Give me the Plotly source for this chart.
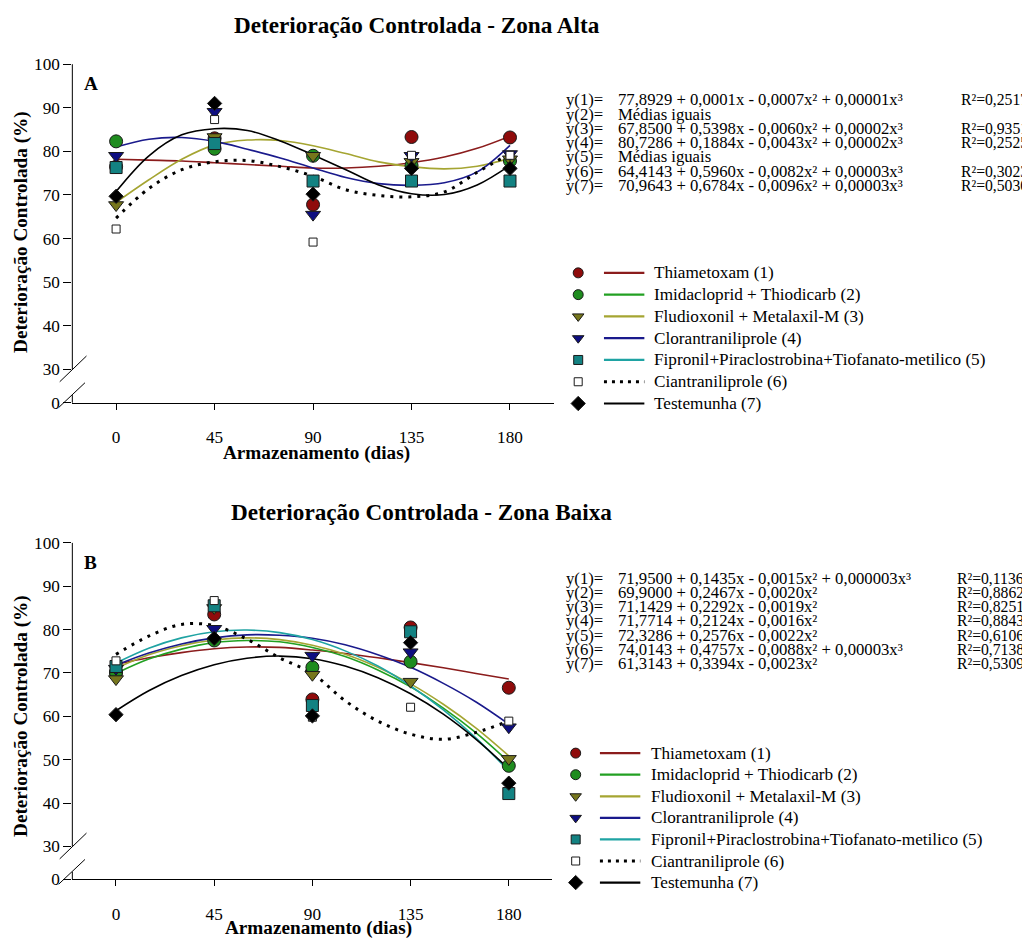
import plotly.graph_objects as go

# ---------------- data ----------------
days = [0, 45, 90, 135, 180]
day_labels = ["0", "45", "90", "135", "180"]
curve_days = [0, 15, 30, 45, 60, 75, 90, 105, 120, 135, 150, 165, 180]
y_tick_values = [30, 40, 50, 60, 70, 80, 90, 100]

series_names = [
    "Thiametoxam (1)",
    "Imidacloprid + Thiodicarb (2)",
    "Fludioxonil + Metalaxil-M (3)",
    "Clorantraniliprole (4)",
    "Fipronil+Piraclostrobina+Tiofanato-metilico (5)",
    "Ciantraniliprole (6)",
    "Testemunha (7)",
]

# Zona Alta - observed means
alta_thiametoxam = [76.5, 83.0, 67.8, 83.3, 83.2]
alta_imidacloprid = [82.3, 80.6, 79.0, 76.8, 77.8]
alta_fludioxonil = [67.7, 83.3, 79.0, 77.6, 78.2]
alta_clorantraniliprole = [79.0, 89.1, 65.5, 79.0, 79.4]
alta_fipronil = [76.3, 81.8, 73.2, 73.2, 73.2]
alta_ciantraniliprole = [62.2, 87.3, 59.2, 79.1, 79.1]
alta_testemunha = [69.7, 91.0, 70.2, 76.1, 76.1]

# Zona Alta - regression curves (None = "Médias iguais")
alta_fit_thiametoxam = [78.2, 78.0, 77.8, 77.4, 77.0, 76.6, 76.2, 76.2, 76.6, 77.4, 78.7, 80.7, 83.5]
alta_fit_fludioxonil = [68.3, 73.5, 78.2, 81.5, 82.6, 82.5, 81.3, 79.5, 77.6, 76.5, 76.0, 76.6, 78.4]
alta_fit_clorantraniliprole = [81.0, 82.8, 83.2, 82.3, 80.5, 78.5, 76.2, 74.0, 72.6, 72.2, 72.8, 75.3, 81.4]
alta_fit_ciantraniliprole = [64.7, 71.5, 75.8, 77.6, 77.9, 76.5, 74.3, 71.2, 69.9, 69.6, 70.7, 75.2, 79.5]
alta_fit_testemunha = [70.8, 79.0, 83.8, 85.2, 84.8, 82.4, 79.2, 75.8, 72.3, 70.3, 70.1, 72.3, 76.8]

# Zona Baixa - observed means
baixa_thiametoxam = [70.0, 83.5, 63.9, 80.5, 66.6]
baixa_imidacloprid = [70.2, 77.5, 71.3, 72.6, 48.6]
baixa_fludioxonil = [68.6, 85.0, 69.6, 68.0, 50.2]
baixa_clorantraniliprole = [71.0, 80.2, 74.0, 74.8, 57.5]
baixa_fipronil = [71.5, 85.5, 62.5, 79.5, 42.2]
baixa_ciantraniliprole = [72.8, 86.7, 59.8, 62.1, 58.9]
baixa_testemunha = [60.4, 78.0, 60.1, 77.0, 44.6]

# Zona Baixa - regression curves
baixa_fit_thiametoxam = [72.0, 73.5, 74.7, 75.6, 76.0, 75.9, 75.3, 74.5, 73.5, 72.4, 71.2, 69.9, 68.6]
baixa_fit_imidacloprid = [69.9, 73.2, 75.5, 77.0, 77.5, 77.2, 75.9, 73.8, 70.7, 66.8, 61.9, 56.2, 49.5]
baixa_fit_fludioxonil = [71.1, 74.2, 76.3, 77.6, 78.1, 77.7, 76.4, 74.3, 71.3, 67.5, 62.8, 57.3, 50.9]
baixa_fit_clorantraniliprole = [71.8, 74.6, 76.7, 78.1, 78.8, 78.7, 78.0, 76.5, 74.2, 71.3, 67.6, 63.3, 58.2]
baixa_fit_fipronil = [72.3, 75.7, 78.1, 79.5, 79.9, 79.3, 77.7, 75.1, 71.6, 67.0, 61.5, 55.0, 47.4]
baixa_fit_ciantraniliprole = [74.3, 78.5, 81.2, 80.9, 77.8, 73.5, 69.9, 63.6, 58.9, 55.9, 54.7, 56.3, 58.9]
baixa_fit_testemunha = [61.3, 65.9, 69.4, 71.9, 73.4, 73.9, 73.3, 71.6, 68.9, 65.2, 60.5, 54.7, 47.9]

eq_labels = ["y(1)=", "y(2)=", "y(3)=", "y(4)=", "y(5)=", "y(6)=", "y(7)="]
alta_equations = [
    "77,8929 + 0,0001x - 0,0007x² + 0,00001x³",
    "Médias iguais",
    "67,8500 + 0,5398x - 0,0060x² + 0,00002x³",
    "80,7286 + 0,1884x - 0,0043x² + 0,00002x³",
    "Médias iguais",
    "64,4143 + 0,5960x - 0,0082x² + 0,00003x³",
    "70,9643 + 0,6784x - 0,0096x² + 0,00003x³",
]
alta_r2 = ["R²=0,2517", "", "R²=0,9351", "R²=0,2525", "", "R²=0,3023", "R²=0,5030"]
baixa_equations = [
    "71,9500 + 0,1435x - 0,0015x² + 0,000003x³",
    "69,9000 + 0,2467x - 0,0020x²",
    "71,1429 + 0,2292x - 0,0019x²",
    "71,7714 + 0,2124x - 0,0016x²",
    "72,3286 + 0,2576x - 0,0022x²",
    "74,0143 + 0,4757x - 0,0088x² + 0,00003x³",
    "61,3143 + 0,3394x - 0,0023x²",
]
baixa_r2 = ["R²=0,1136", "R²=0,8862", "R²=0,8251", "R²=0,8843", "R²=0,6106", "R²=0,7138", "R²=0,5309"]

# ---------------- style / layout ----------------
W, H = 1030, 946
# the page shows the figure at a small offset and scale; place things in screen pixels
SC, OX, OY = 0.99, 7.0, 17.0


def fx(x):
    return (x - OX) / SC


def fy(y):
    return (y - OY) / SC


def fs(size):
    return round(size / SC, 1)


SERIF = "Liberation Serif, Times New Roman, serif"
SYMBOLS = ["circle", "circle", "triangle-down", "triangle-down", "square", "square", "diamond"]
MCOLORS = ["#8f0b0b", "#1f8c1f", "#76761c", "#0e0e80", "#138282", "#ffffff", "#000000"]
LCOLORS = ["#8b1c1c", "#22a022", "#a5a532", "#1a1a8c", "#1fa3a3", "#000000", "#000000"]
DASHES = ["solid", "solid", "solid", "solid", "solid", "3px,6px", "solid"]
LWIDTHS = [1.6, 1.6, 1.6, 1.6, 1.6, 3.0, 1.6]
MSIZES = [13, 13, 13, 13, 12, 8, 11]
LEG_MSIZES = [10, 10, 10, 10, 9, 8, 11]

panels = [
    dict(xa="x", ya="y", left=70.7, right=547.3, y100=64.7, y30=373.0, y0=406.7,
         points=[alta_thiametoxam, alta_imidacloprid, alta_fludioxonil, alta_clorantraniliprole,
                 alta_fipronil, alta_ciantraniliprole, alta_testemunha],
         curves=[alta_fit_thiametoxam, None, alta_fit_fludioxonil, alta_fit_clorantraniliprole,
                 None, alta_fit_ciantraniliprole, alta_fit_testemunha],
         title="Deterioração Controlada - Zona Alta", title_pos=(412, 25.5), tag="A", tag_pos=(89, 84),
         xtitle_pos=(312, 457), ytitle_pos=(20, 234),
         eqs=alta_equations, r2=alta_r2, eq_y0=100.7, eq_step=14.4, r2_x=949,
         leg_y0=275.5, leg_step=22.0, leg_mx=571.5, leg_l0=597, leg_l1=637, leg_tx=646),
    dict(xa="x2", ya="y2", left=70.7, right=546.0, y100=548.3, y30=855.0, y0=888.3,
         points=[baixa_thiametoxam, baixa_imidacloprid, baixa_fludioxonil, baixa_clorantraniliprole,
                 baixa_fipronil, baixa_ciantraniliprole, baixa_testemunha],
         curves=[baixa_fit_thiametoxam, baixa_fit_imidacloprid, baixa_fit_fludioxonil,
                 baixa_fit_clorantraniliprole, baixa_fit_fipronil, baixa_fit_ciantraniliprole,
                 baixa_fit_testemunha],
         title="Deterioração Controlada - Zona Baixa", title_pos=(416, 517), tag="B", tag_pos=(89, 568),
         xtitle_pos=(314, 937), ytitle_pos=(20, 723),
         eqs=baixa_equations, r2=baixa_r2, eq_y0=584.0, eq_step=14.4, r2_x=946,
         leg_y0=760.7, leg_step=21.8, leg_mx=569, leg_l0=593, leg_l1=633, leg_tx=643),
]

fig = go.Figure()
layout = dict(
    width=W, height=H, margin=dict(l=0, r=0, t=0, b=0), autosize=False,
    paper_bgcolor="white", plot_bgcolor="rgba(0,0,0,0)", showlegend=False,
    font=dict(family=SERIF, color="black", size=16),
    # figure-pixel canvas for decorations (legend, titles, equations, axis breaks)
    xaxis3=dict(domain=[0, 1], range=[0, W], visible=False, fixedrange=True),
    yaxis3=dict(domain=[0, 1], range=[H, 0], visible=False, fixedrange=True, anchor="x3"),
)
shapes, annotations = [], []


def canvas_text(x, y, text, size=16, xanchor="left", bold=False, angle=0):
    annotations.append(dict(
        x=fx(x), y=fy(y), xref="x3", yref="y3", text=("<b>%s</b>" % text) if bold else text,
        showarrow=False, xanchor=xanchor, yanchor="middle", textangle=angle, borderpad=0,
        font=dict(family=SERIF, size=fs(size), color="black")))


def canvas_line(x0, y0, x1, y1, color="black", width=1, dash="solid"):
    shapes.append(dict(type="line", xref="x3", yref="y3", x0=fx(x0), y0=fy(y0), x1=fx(x1), y1=fy(y1),
                       line=dict(color=color, width=width, dash=dash)))


for k, p in enumerate(panels):
    sfx = "" if k == 0 else "2"
    r0 = 30 - (p["y0"] - p["y30"]) * 70.0 / (p["y30"] - p["y100"])
    layout["xaxis" + sfx] = dict(
        domain=[fx(p["left"]) / W, fx(p["right"]) / W], range=[-20, 200], anchor=p["ya"],
        tickmode="array", tickvals=days, ticktext=day_labels,
        ticks="outside", ticklen=6, tickwidth=1, tickcolor="black",
        showline=True, linecolor="black", linewidth=1, showgrid=False, zeroline=False,
        tickfont=dict(family=SERIF, size=fs(17)), ticklabelstandoff=13, fixedrange=True)
    layout["yaxis" + sfx] = dict(
        domain=[1 - fy(p["y0"]) / H, 1 - fy(p["y100"]) / H], range=[r0, 100], anchor=p["xa"],
        tickmode="array", tickvals=[r0] + y_tick_values,
        ticktext=["0"] + [str(v) for v in y_tick_values],
        ticks="outside", ticklen=8, tickwidth=1, tickcolor="black",
        showline=False, showgrid=False, zeroline=False,
        tickfont=dict(family=SERIF, size=fs(17)), fixedrange=True)

    # regression curves
    for i, c in enumerate(p["curves"]):
        if c is None:
            continue
        fig.add_trace(go.Scatter(
            x=curve_days, y=c, mode="lines", xaxis=p["xa"], yaxis=p["ya"], hoverinfo="skip",
            line=dict(color=LCOLORS[i], width=LWIDTHS[i], dash=DASHES[i], shape="spline", smoothing=1.0)))
    # observed means
    for i, pts in enumerate(p["points"]):
        fig.add_trace(go.Scatter(
            x=days, y=pts, mode="markers", xaxis=p["xa"], yaxis=p["ya"], name=series_names[i],
            marker=dict(symbol=SYMBOLS[i], size=MSIZES[i], color=MCOLORS[i],
                        line=dict(color="#1a1a1a", width=1))))

    # broken y axis line and break marks
    ax = p["left"]
    canvas_line(ax, p["y100"], ax, p["y30"])
    brk = p["y0"] - 7.7
    canvas_line(ax, brk, ax, p["y0"])
    canvas_line(ax - 12.5, p["y30"] + 12.5, ax + 14, p["y30"] - 13.5)
    canvas_line(ax - 13.5, brk + 12.5, ax + 12.5, brk - 12.5)

    # titles
    canvas_text(p["title_pos"][0], p["title_pos"][1], p["title"], size=23, xanchor="center", bold=True)
    canvas_text(p["tag_pos"][0], p["tag_pos"][1], p["tag"], size=19, xanchor="center", bold=True)
    canvas_text(p["xtitle_pos"][0], p["xtitle_pos"][1], "Armazenamento (dias)", size=19,
                xanchor="center", bold=True)
    canvas_text(p["ytitle_pos"][0], p["ytitle_pos"][1], "Deterioração Controlada (%)", size=19,
                xanchor="center", bold=True, angle=-90)

    # regression equations
    for j in range(7):
        yy = p["eq_y0"] + j * p["eq_step"]
        canvas_text(558, yy, eq_labels[j], size=16.5)
        canvas_text(610, yy, p["eqs"][j], size=16.5)
        if p["r2"][j]:
            canvas_text(p["r2_x"], yy, p["r2"][j], size=15.5)

    # legend: marker, line sample, label
    for j in range(7):
        yy = p["leg_y0"] + j * p["leg_step"]
        fig.add_trace(go.Scatter(
            x=[fx(p["leg_mx"])], y=[fy(yy)], mode="markers", xaxis="x3", yaxis="y3", hoverinfo="skip",
            marker=dict(symbol=SYMBOLS[j], size=LEG_MSIZES[j], color=MCOLORS[j],
                        line=dict(color="#1a1a1a", width=1))))
        canvas_line(p["leg_l0"], yy, p["leg_l1"], yy, color=LCOLORS[j],
                    width=2.2 if j != 5 else 3.0, dash="solid" if j != 5 else "3px,5px")
        canvas_text(p["leg_tx"], yy, series_names[j], size=17)

layout["shapes"] = shapes
layout["annotations"] = annotations
fig.update_layout(**layout)
fig.write_html("out.html")
